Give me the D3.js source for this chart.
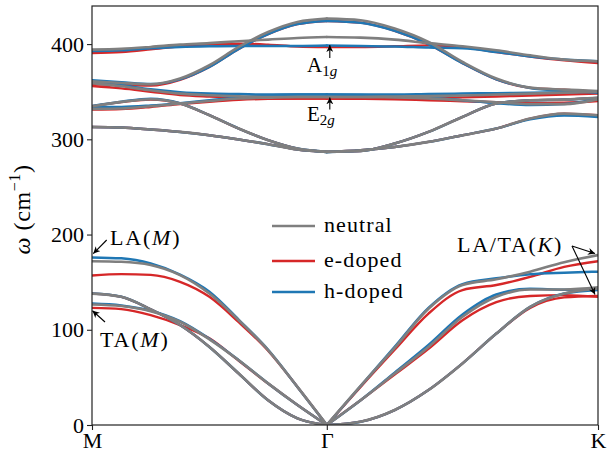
<html>
<head>
<meta charset="utf-8">
<title>phonon dispersion</title>
<style>
  body { margin: 0; background: #fff; }
  svg text { font-family: "Liberation Serif", serif; fill: #000; }
</style>
</head>
<body>
<script src="https://d3js.org/d3.v7.min.js"></script>
<script>
// q-path: M -> Gamma -> K (distances in units of |M-Gamma|)
var kTicks = [0, 1, 2.155];
var kLabels = ["M", "\u0393", "K"];
var kPts = [0, 0.125, 0.25, 0.375, 0.5, 0.625, 0.75, 0.875, 1,
            1.144, 1.289, 1.433, 1.578, 1.722, 1.866, 2.011, 2.155];
var yTicks = [0, 100, 200, 300, 400];
var seriesNames = ["neutral", "e-doped", "h-doped"];
var seriesColors = ["#7f7f7f", "#d62728", "#1f77b4"];

// branches: ZA, TA, LA, E''a, E''b, E'l, E'u, A2'', A1'  (cm^-1)
var neutral = [
  [138, 134.6, 121.4, 105, 82, 54, 26, 7, 0, 3.5, 15.7, 36.7, 64.7, 96, 124, 138, 143.5],
  [126.6, 125, 119.5, 108.4, 90, 68, 43.7, 21, 0, 26, 54, 82, 113.6, 134.6, 142.3, 142.3, 144.5],
  [172, 171.4, 168, 157.4, 138, 110, 78.7, 40, 0, 41, 81, 122, 147, 153, 161, 171, 178.4],
  [313, 312.4, 310.3, 307.8, 304.3, 299.8, 294.9, 289.3, 286.8, 288.6, 292, 297.3, 304.3, 311.3, 321.8, 327, 325.3],
  [334.7, 339.3, 342.1, 337.6, 325.3, 311.3, 299.1, 290.3, 286.8, 287.8, 295.6, 307.8, 323.5, 337.6, 341, 341.7, 343.5],
  [332, 332.3, 334.7, 337.6, 340.3, 342.8, 343.8, 344.5, 344.5, 344.5, 344, 343, 341, 339, 337, 337, 342],
  [359, 355.7, 351.5, 348, 346.3, 345.2, 344.5, 344.5, 344.5, 344.5, 345, 345.5, 346, 347, 348, 349, 350],
  [361, 359.2, 357.8, 363.8, 377.8, 397, 412.7, 423.2, 426.7, 425, 416.3, 402.2, 381.2, 363.8, 354.3, 352.2, 350.8],
  [394.2, 395, 397, 399.4, 401, 403, 404.7, 406.4, 407.5, 406.8, 404.7, 401, 397.7, 393.5, 388.2, 383.7, 382]
];
var eDoped = [
  [138, 134.6, 121.4, 105, 82, 54, 26, 7, 0, 3.5, 15.7, 36.7, 64.7, 96, 123, 134, 135.5],
  [123, 121.7, 115.4, 105, 91, 67.5, 43.5, 21, 0, 26, 53, 80, 110, 129, 135.5, 136.4, 134.6],
  [157, 158.4, 157.7, 150.4, 134.6, 108, 78, 40, 0, 40, 79, 117, 141.7, 147, 155.6, 166, 172],
  [313, 312.4, 310.3, 307.8, 304.3, 299.8, 294.9, 289.3, 286.8, 288.6, 292, 297.3, 304.3, 311.3, 321.8, 327, 325.3],
  [334.7, 339, 341.8, 337.6, 325.3, 311.3, 299.1, 290.3, 286.8, 287.8, 295.6, 307.8, 323.5, 337.6, 341, 341.7, 343.5],
  [331.3, 331.8, 334, 337, 339.5, 341.5, 342.5, 342.8, 342.8, 342.5, 342, 341, 340, 339, 338, 338.5, 340.3],
  [356, 353.5, 350, 346.5, 345, 344, 343.2, 342.8, 342.8, 342.8, 343, 343.5, 344, 345, 346, 347, 348],
  [358, 357, 356.5, 362.5, 376, 395, 410.5, 421, 424.3, 422.5, 414, 400, 380, 363, 354, 352, 350],
  [390.7, 391.7, 394.5, 397.7, 399.4, 400.4, 399.4, 397.5, 397, 397, 397.7, 398.7, 397, 391.7, 387, 383, 380]
];
var hDoped = [
  [138, 134.6, 121.4, 105, 82, 54, 26, 7, 0, 3.5, 15.7, 36.7, 64.7, 96, 124, 138, 141.7],
  [127.5, 125.5, 120, 109, 90.5, 68, 43.7, 21, 0, 26, 55, 84, 116, 137, 143, 142, 142],
  [176, 175, 169.6, 158, 140, 110.5, 79, 40, 0, 41, 82, 123, 148, 154, 158.4, 160, 161],
  [313, 312.4, 310.3, 307.8, 304.3, 299.8, 294.9, 289.3, 286.8, 288.6, 292, 297.3, 304.3, 311.3, 321, 325, 323.5],
  [335, 339.5, 342.5, 337.8, 325.3, 311.3, 299.1, 290.3, 286.8, 287.8, 295.6, 307.8, 323.5, 337.6, 341, 341.7, 343.5],
  [334, 334, 335.5, 338, 341, 344, 346, 347, 347, 346.5, 345.5, 344, 341, 338, 336, 337, 343],
  [361, 357, 352.5, 349.5, 348, 347.5, 347, 347, 347, 347, 347, 347.5, 348, 348.5, 349, 349.5, 350],
  [362, 360, 358, 363, 376, 395, 410.5, 421, 424.3, 422.5, 414, 400, 380, 363, 354, 351, 349],
  [392.8, 393.5, 395.5, 397, 397.7, 398, 398, 398, 398.5, 398, 397.5, 396.3, 395.5, 391.7, 387, 383.7, 382]
];

var width = 611, height = 452;
var margin = {top: 6, right: 13, bottom: 27, left: 92};
var serif = "Liberation Serif";

var svg = d3.select("body").append("svg")
  .attr("width", width)
  .attr("height", height);

var x = d3.scaleLinear().domain([0, kTicks[2]]).range([margin.left, width - margin.right]);
var y = d3.scaleLinear().domain([0, 440]).range([height - margin.bottom, margin.top]);

svg.append("clipPath").attr("id", "plotclip")
  .append("rect")
  .attr("x", margin.left).attr("y", margin.top)
  .attr("width", width - margin.left - margin.right)
  .attr("height", height - margin.top - margin.bottom);

var line = d3.line()
  .x(function(d) { return x(d[0]); })
  .y(function(d) { return y(d[1]); })
  .curve(d3.curveMonotoneX);

var plot = svg.append("g").attr("clip-path", "url(#plotclip)");

// red first, then blue, gray on top
var drawOrder = [[eDoped, seriesColors[1], 2.4], [hDoped, seriesColors[2], 2.5], [neutral, seriesColors[0], 2.6]];
drawOrder.forEach(function(s) {
  s[0].forEach(function(branch) {
    var pts = branch.map(function(v, i) { return [kPts[i], v]; });
    // split at Gamma so the acoustic cusp stays sharp
    [pts.slice(0, 9), pts.slice(8)].forEach(function(seg) {
      plot.append("path")
        .attr("d", line(seg))
        .attr("fill", "none")
        .attr("stroke", s[1])
        .attr("stroke-width", s[2])
        .attr("stroke-linecap", "round");
    });
  });
});

// axes
var xAxis = d3.axisBottom(x).tickValues(kTicks).tickFormat(function(d, i) { return kLabels[i]; })
  .tickSizeOuter(0).tickSize(5).tickPadding(2);
var yAxis = d3.axisLeft(y).tickValues(yTicks).tickSizeOuter(0).tickSize(5).tickPadding(3);

var gx = svg.append("g").attr("transform", "translate(0," + (height - margin.bottom) + ")").call(xAxis);
var gy = svg.append("g").attr("transform", "translate(" + margin.left + ",0)").call(yAxis);
[gx, gy].forEach(function(g) {
  g.attr("font-family", serif).attr("font-size", 22);
  g.select(".domain").remove();
  g.selectAll("line").attr("stroke", "#222").attr("stroke-width", 1.1);
  g.selectAll("text").attr("fill", "#000");
});

svg.append("rect")
  .attr("x", margin.left).attr("y", margin.top)
  .attr("width", width - margin.left - margin.right)
  .attr("height", height - margin.top - margin.bottom)
  .attr("fill", "none").attr("stroke", "#222").attr("stroke-width", 1.2);

// y label
var ylab = svg.append("text")
  .attr("transform", "translate(30," + ((margin.top + height - margin.bottom) / 2 - 6) + ") rotate(-90)")
  .attr("text-anchor", "middle").attr("font-family", serif).attr("font-size", 24)
  .attr("letter-spacing", 0.6);
ylab.append("tspan").attr("font-style", "italic").text("\u03c9");
ylab.append("tspan").text(" (cm");
ylab.append("tspan").attr("font-size", 16).attr("dy", -10).text("\u22121");
ylab.append("tspan").attr("dy", 10).text(")");

// legend
var legY = [226, 261, 292];
seriesNames.forEach(function(name, i) {
  svg.append("line")
    .attr("x1", 272).attr("x2", 315)
    .attr("y1", legY[i]).attr("y2", legY[i])
    .attr("stroke", seriesColors[i]).attr("stroke-width", 2.6);
  svg.append("text")
    .attr("x", 324).attr("y", legY[i] + 6)
    .attr("font-family", serif).attr("font-size", 22).attr("letter-spacing", 1.1)
    .text(name);
});

// annotations
svg.append("defs").append("marker")
  .attr("id", "arr").attr("viewBox", "0 0 10 10")
  .attr("refX", 10).attr("refY", 5)
  .attr("markerWidth", 7).attr("markerHeight", 7)
  .attr("markerUnits", "userSpaceOnUse")
  .attr("orient", "auto")
  .append("path").attr("d", "M0,0 L10,5 L0,10 L3,5 Z").attr("fill", "#000");

function arrow(x1, y1, x2, y2) {
  svg.append("line")
    .attr("x1", x1).attr("y1", y1).attr("x2", x2).attr("y2", y2)
    .attr("stroke", "#000").attr("stroke-width", 1.1)
    .attr("marker-end", "url(#arr)");
}

function label(px, py, size, spacing, parts) {
  var t = svg.append("text").attr("x", px).attr("y", py)
    .attr("font-family", serif).attr("font-size", size).attr("letter-spacing", spacing);
  parts.forEach(function(p) {
    var s = t.append("tspan").text(p[0]);
    if (p[1]) s.attr("font-style", "italic");
    if (p[2]) s.attr("font-size", p[2]);
    if (p[3]) s.attr("dy", p[3]);
  });
  return t;
}

var gX = x(kTicks[1]) + 3;
arrow(gX, y(399) + 13, gX, y(399));
arrow(gX, y(344) + 12, gX, y(344));
label(307, 72, 21, 0, [["A"], ["1", false, 15, 4], ["g", true, 15]]);
label(307, 121, 21, 0, [["E"], ["2", false, 15, 4], ["g", true, 15]]);

arrow(106.7, 240, x(0) + 1.3, y(180));
label(110, 245, 22, 1.8, [["LA("], ["M", true], [")"]]);

arrow(105, 322, x(0) + 0.5, y(120));
label(100, 347, 22, 1.8, [["TA("], ["M", true], [")"]]);

arrow(572, 246, x(kTicks[2]) - 3, y(180));
arrow(572, 246, x(kTicks[2]) - 3, y(137));
label(457, 252, 22, 1.7, [["LA/TA("], ["K", true], [")"]]);
</script>
</body>
</html>
